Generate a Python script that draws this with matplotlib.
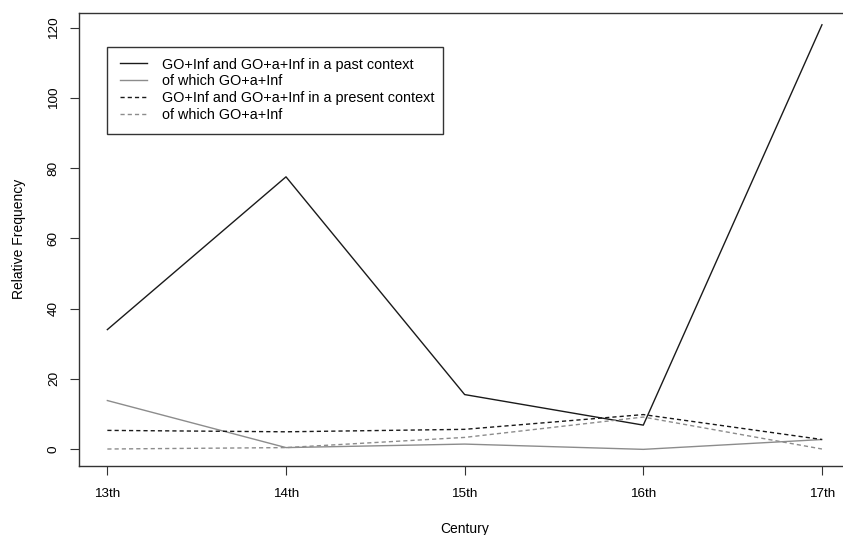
import matplotlib
matplotlib.use('Agg')
import matplotlib.pyplot as plt
from matplotlib.patches import Rectangle

plt.rcParams.update({
    'font.family': ['Liberation Sans', 'DejaVu Sans'],
    'font.size': 10,
})

centuries = ['13th', '14th', '15th', '16th', '17th']
x_pos = [13, 14, 15, 16, 17]

past_all = [34.0, 77.5, 15.5, 6.8, 120.8]
past_a = [13.8, 0.4, 1.4, -0.1, 2.7]
present_all = [5.3, 4.9, 5.6, 9.8, 2.7]
present_a = [0.0, 0.4, 3.3, 9.1, 0.0]

labels = ['GO+Inf and GO+a+Inf in a past context',
          'of which GO+a+Inf',
          'GO+Inf and GO+a+Inf in a present context',
          'of which GO+a+Inf']

DASH = (0, (3, 2.2))
C_DARK = '#1a1a1a'
C_GREY = '#8c8c8c'

W, H = 843, 535
fig = plt.figure(figsize=(W / 100, H / 100), dpi=100)
ax = fig.add_axes([79.3 / W, 69 / H, (850 - 79.3) / W, (466 - 12.7) / H])

ax.plot(x_pos, past_all, color=C_DARK, lw=1.0, label=labels[0])
ax.plot(x_pos, past_a, color=C_GREY, lw=1.0, label=labels[1])
ax.plot(x_pos, present_all, color=C_DARK, lw=1.0, ls=DASH, label=labels[2])
ax.plot(x_pos, present_a, color=C_GREY, lw=1.0, ls=DASH, label=labels[3])

ax.set_xlim(12.843, 17.157)
ax.set_ylim(-4.84, 124.24)
ax.set_xticks(x_pos)
ax.set_xticklabels(centuries)
ax.set_yticks([0, 20, 40, 60, 80, 100, 120])
for lbl in ax.get_yticklabels():
    lbl.set_rotation(90)
    lbl.set_va('center')
ax.tick_params(direction='out', length=6.5, width=0.8, color='#333333',
               labelsize=9.7)
ax.tick_params(axis='x', pad=9.5)
ax.tick_params(axis='y', pad=7.5)
for s in ax.spines.values():
    s.set_linewidth(1.0)
    s.set_color('#333333')

ax.set_xlabel('Century', labelpad=15.5)
ax.set_ylabel('Relative Frequency', labelpad=15.5)

# legend entries without frame, frame drawn as its own box (R-style inset)
leg = ax.legend(loc='upper left', bbox_to_anchor=(120 / W, 1 - 57.5 / H),
                bbox_transform=fig.transFigure, frameon=False,
                handlelength=1.875, handletextpad=1.04, labelspacing=0.2,
                borderpad=0, borderaxespad=0, fontsize=10.4)
fig.patches.append(Rectangle((107 / W, 1 - 134 / H), (443 - 107) / W,
                             (134 - 47) / H, transform=fig.transFigure,
                             fill=False, lw=1.0, ec='#333333', zorder=5))

fig.savefig('out.png', dpi=100)
